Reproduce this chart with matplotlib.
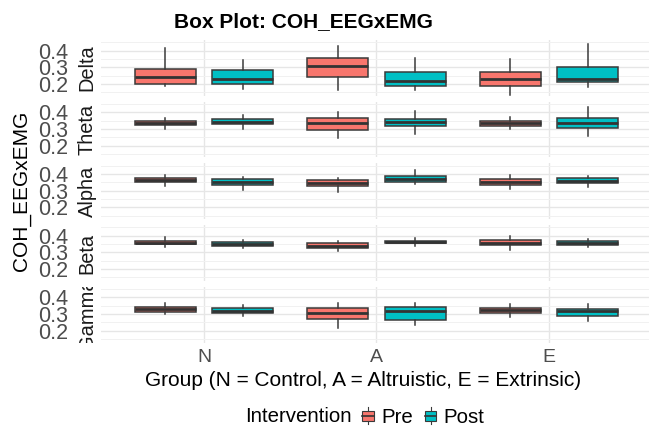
import matplotlib
matplotlib.use("Agg")
import matplotlib.pyplot as plt
from matplotlib.patches import Rectangle
from matplotlib.lines import Line2D
from matplotlib.legend_handler import HandlerBase
from matplotlib.transforms import Bbox, TransformedBbox

plt.rcParams['font.family'] = ['Liberation Sans', 'DejaVu Sans']

bands = ["Delta", "Theta", "Alpha", "Beta", "Gamma"]
groups = ["N", "A", "E"]
interventions = ["Pre", "Post"]
fill_colors = {"Pre": "#F8766D", "Post": "#00BFC4"}

# five-number summaries per group (N, A, E): whisker low, Q1, median, Q3, whisker high
delta_pre = [(0.190, 0.202, 0.242, 0.288, 0.414), (0.162, 0.240, 0.308, 0.358, 0.426), (0.134, 0.188, 0.230, 0.272, 0.350)]
delta_post = [(0.168, 0.200, 0.232, 0.284, 0.342), (0.164, 0.186, 0.220, 0.274, 0.354), (0.182, 0.212, 0.230, 0.300, 0.438)]
theta_pre = [(0.300, 0.322, 0.334, 0.350, 0.366), (0.246, 0.296, 0.334, 0.368, 0.400), (0.302, 0.320, 0.334, 0.346, 0.372)]
theta_post = [(0.302, 0.328, 0.344, 0.360, 0.386), (0.272, 0.318, 0.342, 0.362, 0.410), (0.256, 0.308, 0.334, 0.366, 0.432)]
alpha_pre = [(0.330, 0.350, 0.362, 0.374, 0.396), (0.292, 0.328, 0.348, 0.366, 0.376), (0.310, 0.334, 0.350, 0.370, 0.392)]
alpha_post = [(0.302, 0.334, 0.350, 0.370, 0.382), (0.342, 0.350, 0.370, 0.386, 0.424), (0.322, 0.346, 0.360, 0.374, 0.386)]
beta_pre = [(0.332, 0.348, 0.358, 0.370, 0.392), (0.310, 0.326, 0.340, 0.356, 0.366), (0.316, 0.342, 0.358, 0.374, 0.396)]
beta_post = [(0.324, 0.340, 0.352, 0.362, 0.376), (0.338, 0.354, 0.362, 0.370, 0.384), (0.330, 0.344, 0.358, 0.370, 0.380)]
gamma_pre = [(0.302, 0.312, 0.330, 0.344, 0.364), (0.218, 0.268, 0.306, 0.336, 0.364), (0.284, 0.308, 0.324, 0.338, 0.360)]
gamma_post = [(0.288, 0.304, 0.320, 0.334, 0.356), (0.236, 0.264, 0.320, 0.340, 0.368), (0.258, 0.288, 0.320, 0.332, 0.360)]

summaries = {
    "Delta": {"Pre": delta_pre, "Post": delta_post},
    "Theta": {"Pre": theta_pre, "Post": theta_post},
    "Alpha": {"Pre": alpha_pre, "Post": alpha_post},
    "Beta": {"Pre": beta_pre, "Post": beta_post},
    "Gamma": {"Pre": gamma_pre, "Post": gamma_post},
}

y_ticks = [0.2, 0.3, 0.4]
y_minor = [0.15, 0.25, 0.35, 0.45]
y_tick_labels = ["0.2", "0.3", "0.4"]

W, H = 649, 430
fig = plt.figure(figsize=(W / 100, H / 100), dpi=100)

left_px, right_px = 100.5, 649.0
top0_px, panel_h_px, pitch_px = 40.0, 55.7, 61.7
dodge = {"Pre": -0.225, "Post": 0.225}
box_w = 0.354
edge = "#3a3a3a"

for i, band in enumerate(bands):
    top = top0_px + i * pitch_px
    ax = fig.add_axes([left_px / W, 1 - (top + panel_h_px) / H,
                       (right_px - left_px) / W, panel_h_px / H])

    for iv in interventions:
        stats = []
        for g in range(len(groups)):
            lo, q1, med, q3, hi = summaries[band][iv][g]
            stats.append({"whislo": lo, "q1": q1, "med": med, "q3": q3, "whishi": hi, "fliers": []})
        ax.bxp(stats, positions=[g + dodge[iv] for g in range(len(groups))], widths=box_w,
               patch_artist=True, showfliers=False, showcaps=False, manage_ticks=False,
               boxprops=dict(facecolor=fill_colors[iv], edgecolor=edge, linewidth=1.1),
               medianprops=dict(color="#333333", linewidth=2.0),
               whiskerprops=dict(color=edge, linewidth=1.1))

    ax.set_xlim(-0.6, 2.58)
    ax.set_ylim(0.130, 0.464)
    for s in ax.spines.values():
        s.set_visible(False)
    ax.set_yticks(y_ticks)
    ax.set_yticks(y_minor, minor=True)
    ax.set_yticklabels(y_tick_labels)
    ax.set_xticks(range(len(groups)))
    ax.set_xticks([], minor=True)
    ax.grid(True, which="major", color="#E6E6E6", linewidth=1.0)
    ax.grid(True, which="minor", axis="y", color="#F1F1F1", linewidth=0.7)
    ax.set_axisbelow(True)
    ax.tick_params(axis="y", which="both", length=0, pad=23, labelsize=15.5, labelcolor="#4D4D4D")
    ax.tick_params(axis="x", which="both", length=0, pad=5, labelsize=14, labelcolor="#4D4D4D")
    if i == len(bands) - 1:
        ax.set_xticklabels(groups)
    else:
        ax.set_xticklabels([])

    strip_x = (87 - left_px) / (right_px - left_px)
    t = ax.text(strip_x, 0.5, band, transform=ax.transAxes, rotation=90,
                ha="center", va="center", fontsize=14.4, color="#1A1A1A")
    t.set_clip_box(TransformedBbox(Bbox([[-0.05, 0.0], [0.0, 1.0]]), ax.transAxes))
    t.set_clip_on(True)

fig.text(303 / W, 1 - 22 / H, "Box Plot: COH_EEGxEMG", ha="center", va="center",
         fontsize=15, fontweight="bold", color="black")
fig.text(22 / W, 1 - 191 / H, "COH_EEGxEMG", rotation=90, ha="center", va="center",
         fontsize=15, color="black")
fig.text(363.5 / W, 1 - 380 / H, "Group (N = Control, A = Altruistic, E = Extrinsic)",
         ha="center", va="center", fontsize=15, color="black")
fig.text(245 / W, 1 - 417 / H, "Intervention", ha="left", va="center", fontsize=14.7, color="black")


class BoxKeyHandler(HandlerBase):
    def create_artists(self, legend, orig_handle, xdescent, ydescent, width, height, fontsize, trans):
        fc = orig_handle.get_facecolor()
        rect = Rectangle((xdescent + 0.1 * width, -ydescent + 0.2 * height), 0.8 * width, 0.6 * height,
                         facecolor=fc, edgecolor=edge, linewidth=0.8, transform=trans)
        med = Line2D([xdescent + 0.1 * width, xdescent + 0.9 * width],
                     [-ydescent + 0.5 * height] * 2, color="#333333", linewidth=1.2, transform=trans)
        wt = Line2D([xdescent + 0.5 * width] * 2, [-ydescent + 0.8 * height, -ydescent + 1.0 * height],
                    color=edge, linewidth=0.8, transform=trans)
        wb = Line2D([xdescent + 0.5 * width] * 2, [-ydescent, -ydescent + 0.2 * height],
                    color=edge, linewidth=0.8, transform=trans)
        return [rect, med, wt, wb]


handles = [Rectangle((0, 0), 1, 1, facecolor=fill_colors[iv]) for iv in interventions]
fig.legend(handles, interventions, handler_map={Rectangle: BoxKeyHandler()},
           loc="center left", bbox_to_anchor=(361 / W, 1 - 417 / H), ncol=2, frameon=False,
           fontsize=14.7, handlelength=0.7, handleheight=0.9, handletextpad=0.3,
           columnspacing=0.5, borderpad=0, borderaxespad=0)

fig.savefig("out.png", dpi=100)
